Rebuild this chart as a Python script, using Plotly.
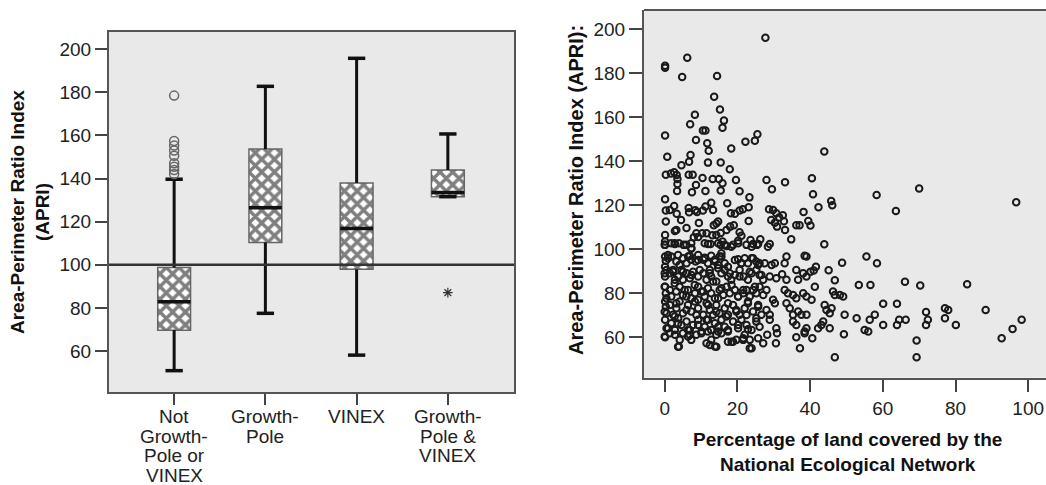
import plotly.graph_objects as go

# ---------------- Left chart: box plot data ----------------
categories = ["Not<br>Growth-<br>Pole or<br>VINEX", "Growth-<br>Pole", "VINEX", "Growth-<br>Pole &amp;<br>VINEX"]
cat_pos = [0, 1, 2, 3]
q1 = [69.7, 110.4, 97.9, 131.6]
median = [82.9, 126.5, 116.9, 133.5]
q3 = [98.7, 153.7, 138.0, 144.0]
lower_whisker = [50.9, 77.5, 58.1, 131.6]
upper_whisker = [139.7, 182.8, 195.8, 160.7]
outlier_cat = [0, 0, 0, 0, 0, 0, 0, 0, 0]
outlier_val = [178.5, 157.4, 155.3, 153.0, 150.6, 147.1, 145.5, 144.0, 142.1]
extreme_cat = [3]
extreme_val = [87.1]
reference_value = 100

left_y_title = "Area-Perimeter Ratio Index<br>(APRI)"
right_y_title = "Area-Perimeter Ratio Index (APRI):"
right_x_title = "Percentage of land covered by the<br>National Ecological Network"

# ---------------- Right chart: scatter data ----------------
ecol_x = [
    27.7, 0.1, 0.1, 6.2, 4.8, 14.4, 13.6, 15.2, 8.3, 16.3, 15.9, 7.0, 0.1, 10.5, 11.2, 8.6, 22.2, 24.8, 25.5, 11.7,
    12.1, 18.3, 43.9, 0.7, 7.1, 6.7, 11.9, 15.4, 17.9, 4.6,
    0.3, 1.7, 2.6, 3.3, 3.5, 3.5, 3.4, 6.6, 7.7, 10.4, 8.6, 7.5, 11.2, 13.2, 14.9, 15.9, 15.4, 19.6, 20.6, 23.3,
    28.0, 29.5, 33.1, 40.5, 40.8, 58.3, 70.0, 96.7, 63.6, 45.8, 46.1, 42.3, 38.2, 39.5, 40.1, 36.2, 37.1, 34.8, 33.1, 43.9,
    28.7, 29.8, 30.7, 31.5, 29.3, 30.3, 30.9, 32.5, 32.8, 28.4, 28.9, 20.6, 21.5, 23.1, 23.1, 17.2, 18.2, 19.3, 20.6, 0.1,
    0.3, 1.4, 2.6, 3.3, 0.3, 0.1, 2.8, 3.2, 4.5, 6.0, 6.6, 6.7, 8.4, 8.9, 11.2, 10.5, 12.8, 13.3, 9.4, 10.3,
    11.5, 9.2, 13.5, 14.2, 14.7, 13.1, 14.2, 15.4, 17.0, 18.0, 19.0,
    0.1, 0.1, 1.8, 2.8, 3.9, 5.2, 7.3, 7.3, 8.0, 8.7, 11.9, 12.6, 15.4, 15.9, 17.0, 18.3, 18.8, 20.2, 21.1, 22.5,
    23.6, 24.3, 25.4, 26.3,
    0.1, 0.3, 0.1, 0.9, 1.8, 3.2, 4.1, 5.0, 6.0, 6.9, 7.3, 8.5, 9.2, 10.6, 11.0, 11.9, 12.8, 13.8, 14.7, 15.1,
    15.6, 16.5, 17.4, 20.2, 21.1, 22.0, 22.9, 24.3, 25.2, 26.1, 27.5, 29.4, 30.3, 33.5, 33.0, 38.5, 39.0, 41.6, 48.8, 55.5,
    58.4,
    0.1, 0.5, 1.4, 2.3, 2.8, 3.7, 4.6, 5.0, 6.0, 6.9, 7.8, 9.2, 10.6, 11.5, 12.4, 12.8, 14.2, 15.6, 16.5, 17.4,
    18.3, 19.3, 20.6, 21.7, 22.9, 23.9, 25.2, 26.1, 27.1, 28.9, 30.7, 32.3, 33.5, 36.2, 36.7, 38.1, 39.0, 40.1, 41.0, 45.1,
    46.8, 53.4, 56.6, 66.1, 70.3, 83.2,
    0.1, 0.3, 1.4, 1.8, 3.2, 4.1, 5.0, 6.4, 7.3, 8.3, 9.2, 10.1, 11.0, 11.9, 12.8, 13.8, 15.1, 16.1, 17.0, 17.9,
    19.3, 20.2, 21.6, 22.5, 23.4, 24.3, 25.2, 26.1, 27.1, 28.0, 29.8, 33.0, 33.9, 35.3, 36.2, 38.1, 39.0, 40.4, 41.3, 46.3,
    46.8, 48.2, 49.1,
    0.1, 0.3, 0.5, 1.4, 2.3, 3.2, 4.1, 5.0, 6.4, 7.3, 8.3, 9.2, 10.6, 11.5, 12.4, 13.3, 14.2, 15.1, 16.5, 17.4,
    18.8, 19.7, 20.6, 22.0, 22.9, 24.3, 25.7, 26.6, 28.0, 28.9, 30.3, 33.5, 34.4, 35.3, 36.7, 37.6, 39.0, 44.0, 44.5, 45.4,
    45.9, 49.5, 52.8, 57.8, 60.1, 63.9, 71.9, 77.1, 78.0, 88.3,
    0.1, 0.5, 1.8, 2.8, 3.7, 4.6, 6.0, 6.9, 7.8, 9.2, 10.1, 11.0, 11.9, 12.8, 13.8, 14.7, 15.6, 16.5, 17.4, 18.8,
    20.2, 21.1, 22.5, 23.9, 25.2, 26.1, 28.9, 30.7, 35.3, 36.2, 38.5, 39.0, 42.2, 43.1, 43.6, 45.4, 55.0, 56.0, 56.4, 60.1,
    63.9, 64.5, 66.3, 71.9, 72.4, 77.1, 80.1, 92.7, 95.7, 98.2,
    0.1, 1.4, 2.8, 3.9, 5.0, 6.4, 7.3, 8.7, 10.1, 11.5, 12.8, 13.8, 14.2, 15.6, 17.4, 18.8, 19.7, 21.6, 22.0, 23.4,
    23.9, 25.7, 27.1, 28.2, 30.6, 30.9, 36.2, 37.2, 38.5, 40.6, 46.8, 49.3, 69.3, 69.3,
    0.0, 2.75, 5.96, 7.34, 11.0, 14.7, 16.5, 20.2, 23.9, 25.7,
    0.92, 3.67, 6.42, 9.17, 11.0, 13.8, 15.6, 19.3, 21.1, 23.9, 25.7,
    0.0, 2.3, 5.05, 7.34, 9.63, 12.4, 14.7, 17.9, 20.6, 23.4, 26.6,
    0.0, 2.75, 5.5, 8.26, 10.55, 13.3, 15.6, 18.4, 21.6, 24.8,
    0.46, 3.2, 5.96, 9.17, 11.9, 14.7, 17.4, 20.2, 22.9, 25.7,
    0.0, 2.75, 5.96, 8.72, 11.5, 14.2, 16.97, 19.7, 22.5, 25.2,
    0.92, 3.67, 6.42, 9.17, 11.9, 14.7, 17.4, 20.2, 22.9,
    0.0, 4.13, 6.88, 12.4, 14.2, 18.4, 21.6, 23.4, 3.67,
]
ecol_y = [
    196.2, 183.5, 182.5, 187.1, 178.3, 178.8, 169.4, 163.6, 161.2, 158.5, 155.3, 156.8, 151.7, 154.0, 154.0, 149.7, 148.9, 149.4, 152.3, 148.2,
    144.8, 145.8, 144.5, 142.1, 142.9, 139.8, 139.4, 139.5, 136.4, 138.2,
    133.9, 134.5, 135.0, 133.8, 132.0, 129.7, 126.5, 133.9, 133.9, 132.4, 129.2, 125.9, 126.5, 132.0, 132.0, 130.0, 126.7, 131.5, 126.4, 123.6,
    131.5, 127.3, 130.5, 132.3, 125.0, 124.7, 127.6, 121.4, 117.4, 122.0, 120.0, 119.1, 117.0, 112.9, 110.8, 110.9, 110.9, 104.5, 108.8, 102.3,
    118.2, 117.9, 116.4, 114.5, 113.3, 112.1, 110.3, 115.5, 112.7, 101.2, 102.4, 117.6, 118.2, 119.1, 112.9, 120.9, 116.4, 116.2, 107.7, 122.7,
    117.6, 117.9, 119.7, 116.1, 112.6, 106.5, 108.3, 108.8, 113.3, 109.7, 118.8, 116.8, 117.7, 116.9, 119.4, 117.6, 121.2, 117.9, 112.0, 107.3,
    107.3, 105.6, 110.9, 111.7, 112.6, 106.4, 106.5, 107.4, 108.8, 110.3, 110.9,
    103.5, 102.0, 102.7, 102.4, 102.7, 102.0, 102.7, 100.5, 105.5, 107.3, 102.4, 102.4, 102.0, 103.5, 101.5, 101.2, 102.0, 103.9, 106.1, 102.0,
    104.2, 102.4, 102.0, 104.5,
    96.7, 94.8, 92.1, 97.4, 96.7, 94.4, 92.9, 95.9, 93.6, 97.0, 95.2, 94.4, 97.4, 95.2, 96.2, 93.6, 97.0, 95.2, 92.9, 96.7,
    98.2, 93.6, 92.1, 95.5, 93.6, 95.9, 93.6, 95.9, 94.4, 93.6, 93.6, 92.9, 93.6, 96.7, 93.6, 97.0, 96.7, 92.1, 93.9, 96.7,
    93.6,
    87.6, 90.6, 89.1, 89.8, 86.1, 87.6, 90.6, 86.1, 89.1, 86.8, 89.8, 87.6, 89.1, 86.1, 90.6, 87.6, 85.3, 89.1, 90.6, 87.6,
    86.1, 88.3, 90.6, 87.6, 86.1, 89.1, 90.6, 88.3, 86.1, 87.6, 86.8, 88.6, 86.1, 90.6, 86.1, 89.1, 87.6, 89.8, 90.3, 90.5,
    85.9, 83.8, 83.8, 85.2, 83.5, 84.1,
    83.0, 80.0, 81.5, 78.5, 80.8, 83.0, 79.2, 81.5, 77.7, 80.0, 83.0, 80.8, 78.5, 82.3, 80.0, 77.7, 81.5, 79.2, 83.0, 80.0,
    81.5, 78.5, 80.0, 81.5, 78.5, 81.5, 80.0, 83.0, 79.2, 81.5, 77.0, 81.5, 80.0, 79.2, 77.7, 80.0, 78.5, 77.0, 83.0, 80.8,
    79.2, 79.2, 78.5,
    76.2, 73.9, 70.9, 74.7, 70.2, 73.2, 76.2, 70.9, 74.7, 71.7, 76.2, 73.2, 70.2, 75.5, 72.4, 70.2, 74.7, 70.9, 73.2, 70.2,
    74.7, 71.7, 70.2, 73.2, 75.5, 71.7, 73.9, 70.2, 72.4, 70.2, 75.5, 75.5, 73.2, 70.2, 71.7, 70.2, 70.2, 74.7, 72.4, 70.9,
    73.2, 70.2, 68.6, 70.2, 75.2, 75.2, 71.5, 73.2, 72.4, 72.4,
    67.9, 64.1, 66.4, 63.3, 68.6, 65.6, 67.1, 63.3, 65.6, 67.9, 62.6, 64.8, 67.9, 63.3, 66.4, 62.6, 67.9, 64.8, 62.6, 67.1,
    64.1, 67.9, 65.6, 63.3, 67.1, 64.8, 67.9, 64.1, 67.1, 65.6, 62.6, 64.1, 64.1, 65.6, 67.1, 64.1, 63.3, 62.6, 67.9, 65.6,
    65.6, 67.9, 67.9, 65.6, 67.9, 68.6, 65.6, 59.5, 63.8, 67.9,
    60.0, 61.8, 61.1, 55.8, 61.8, 60.3, 58.8, 61.1, 61.8, 57.3, 58.8, 55.8, 61.1, 61.8, 58.0, 58.0, 58.8, 58.8, 61.1, 58.8,
    55.0, 59.5, 57.3, 61.1, 57.3, 61.8, 60.0, 55.0, 61.8, 59.5, 50.9, 61.4, 58.5, 50.9,
    102.0, 102.7, 102.0, 100.4, 102.7, 102.7, 102.0, 102.7, 101.2, 102.4,
    95.9, 97.4, 96.7, 95.1, 95.9, 94.4, 96.7, 95.1, 93.6, 95.9, 92.9,
    89.1, 90.6, 89.8, 88.3, 90.6, 89.1, 91.4, 89.1, 87.6, 89.8, 88.3,
    83.0, 84.5, 81.5, 83.8, 80.8, 85.3, 82.3, 83.8, 81.5, 83.0,
    77.7, 75.4, 78.5, 77.0, 74.7, 77.7, 75.4, 78.5, 76.2, 74.7,
    71.6, 69.4, 72.4, 70.1, 67.9, 71.6, 69.4, 72.4, 70.1, 68.6,
    64.1, 66.3, 63.3, 65.6, 62.6, 64.8, 63.3, 65.6, 63.6,
    60.3, 58.8, 61.0, 56.5, 55.7, 58.0, 59.5, 55.0, 55.7,
]

FONT = "Liberation Sans, Arial, sans-serif"
BG = "#e9e9e9"
FRAME = "#555555"
TXT = "#222222"

fig = go.Figure()

# boxes (hatched)
fig.add_trace(go.Bar(
    x=cat_pos, y=[b - a for a, b in zip(q1, q3)], base=q1, width=0.36,
    marker=dict(color="white",
                pattern=dict(shape="x", fgcolor="#000000", bgcolor="white", size=9, solidity=0.62),
                line=dict(color="#666666", width=1.5)),
    xaxis="x", yaxis="y", showlegend=False, hoverinfo="skip"))

# whiskers
wx, wy = [], []
for i, lo, a, b, hi in zip(cat_pos, lower_whisker, q1, q3, upper_whisker):
    wx += [i, i, None, i, i, None]
    wy += [lo, a, None, b, hi, None]
fig.add_trace(go.Scatter(x=wx, y=wy, mode="lines", line=dict(color="#111111", width=3),
                         xaxis="x", yaxis="y", showlegend=False, hoverinfo="skip"))
# whisker caps
cx, cy = [], []
for i, lo, hi in zip(cat_pos, lower_whisker, upper_whisker):
    cx += [i - 0.095, i + 0.095, None, i - 0.095, i + 0.095, None]
    cy += [lo, lo, None, hi, hi, None]
fig.add_trace(go.Scatter(x=cx, y=cy, mode="lines", line=dict(color="#111111", width=3.5),
                         xaxis="x", yaxis="y", showlegend=False, hoverinfo="skip"))
# medians
mx, my = [], []
for i, m in zip(cat_pos, median):
    mx += [i - 0.18, i + 0.18, None]
    my += [m, m, None]
fig.add_trace(go.Scatter(x=mx, y=my, mode="lines", line=dict(color="#111111", width=3.5),
                         xaxis="x", yaxis="y", showlegend=False, hoverinfo="skip"))
# outliers
fig.add_trace(go.Scatter(x=outlier_cat, y=outlier_val, mode="markers",
                         marker=dict(symbol="circle-open", size=9, color="#666666", line=dict(width=1.5)),
                         xaxis="x", yaxis="y", showlegend=False))
fig.add_trace(go.Scatter(x=extreme_cat, y=extreme_val, mode="markers",
                         marker=dict(symbol="asterisk-open", size=8, color="#333333", line=dict(width=1.2)),
                         xaxis="x", yaxis="y", showlegend=False))

# scatter
fig.add_trace(go.Scatter(x=ecol_x, y=ecol_y, mode="markers",
                         marker=dict(symbol="circle-open", size=6.5, color="#1a1a1a", line=dict(width=2)),
                         xaxis="x2", yaxis="y2", showlegend=False))

axis_common = dict(showgrid=False, zeroline=False, showline=True, linecolor=FRAME, linewidth=2,
                   ticks="outside", tickcolor="#444444", tickwidth=1.5,
                   tickfont=dict(family=FONT, size=19, color=TXT))

L_x0, L_x1 = 109 / 1046, 514 / 1046
L_y0, L_y1 = 1 - 392 / 485, 1 - 32 / 485
R_x0 = 644 / 1046
R_y0, R_y1 = 1 - 377.7 / 485, 1 - 10 / 485

annotations = []
# category labels, one annotation per line (tight line spacing like the original)
for i, cat in enumerate(categories):
    for j, line in enumerate(cat.split("<br>")):
        annotations.append(dict(text=line, xref="x", yref="paper", x=cat_pos[i],
                                y=1 - (416.7 + 19.5 * j) / 485, xanchor="center", yanchor="middle",
                                showarrow=False, font=dict(family=FONT, size=19, color=TXT)))
annotations.append(dict(text="<b>" + left_y_title + "</b>", textangle=-90, xref="paper", yref="paper",
                        x=29.5 / 1046, y=1 - 212.5 / 485, xanchor="center", yanchor="middle",
                        showarrow=False, font=dict(family=FONT, size=19, color="#111111")))
annotations.append(dict(text="<b>" + right_y_title + "</b>", textangle=-90, xref="paper", yref="paper",
                        x=576 / 1046, y=1 - 190 / 485, xanchor="center", yanchor="middle", showarrow=False,
                        font=dict(family=FONT, size=20, color="#111111")))
annotations.append(dict(text="<b>" + right_x_title + "</b>", xref="paper", yref="paper",
                        x=847 / 1046, y=1 - 451.7 / 485, xanchor="center", yanchor="middle",
                        showarrow=False, font=dict(family=FONT, size=19, color="#111111")))

fig.update_layout(
    width=1046, height=485,
    margin=dict(l=0, r=0, t=0, b=0),
    paper_bgcolor="white", plot_bgcolor=BG,
    xaxis=dict(axis_common, domain=[L_x0, L_x1], range=[-0.714, 3.725], anchor="y",
               tickvals=cat_pos, showticklabels=False, ticklen=11, mirror=True),
    yaxis=dict(axis_common, domain=[L_y0, L_y1], range=[41, 208], anchor="x",
               tickvals=[60, 80, 100, 120, 140, 160, 180, 200], ticklen=12, mirror=True),
    xaxis2=dict(axis_common, domain=[R_x0, 1.0], range=[-5.7, 104.9], anchor="y2",
                tickvals=[0, 20, 40, 60, 80, 100], ticklen=12),
    yaxis2=dict(axis_common, domain=[R_y0, R_y1], range=[41.6, 208.8], anchor="x2",
                tickvals=[60, 80, 100, 120, 140, 160, 180, 200], ticklen=13),
    shapes=[
        dict(type="line", xref="x domain", yref="y", x0=0, x1=1, y0=reference_value, y1=reference_value,
             line=dict(color="#333333", width=2.5)),
        dict(type="line", xref="paper", yref="paper", x0=R_x0, x1=1.0, y0=R_y1, y1=R_y1,
             line=dict(color=FRAME, width=2)),
    ],
    annotations=annotations,
)

fig.write_html("out.html")
